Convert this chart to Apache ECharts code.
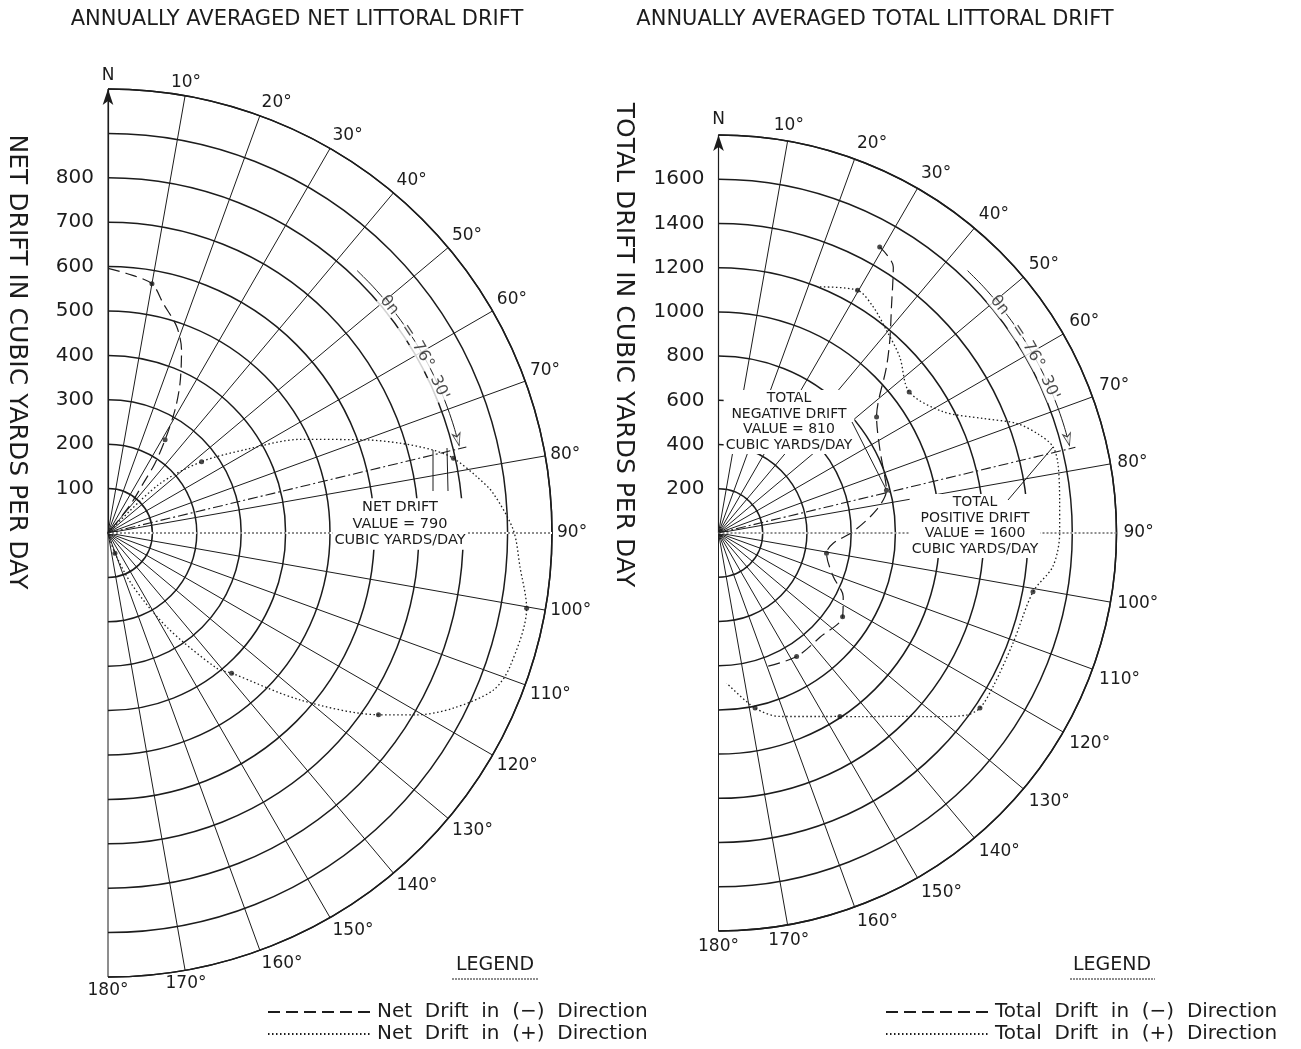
<!DOCTYPE html>
<html>
<head>
<meta charset="utf-8">
<title>Annually averaged littoral drift</title>
<script src="https://cdn.jsdelivr.net/npm/echarts@6.0.0/dist/echarts.min.js"></script>
<style>
  html, body { margin: 0; padding: 0; background: #fff; }
  #chart { width: 1301px; height: 1049px; }
</style>
</head>
<body>
<div id="chart"></div>
<script>
// Wave approach angle in degrees clockwise from north, drift in cubic yards per day.

// Net littoral drift, negative direction
const netNegAngle = [0, 4.1, 10, 13.5, 18.4, 21.9, 25.7, 28.6, 31.5, 34, 35.4, 38.4, 40];
const netNegValue = [596, 586, 570, 532, 490, 444, 374, 315, 246, 189, 137, 80, 0];
const netNegDotAngle = [10, 31.5];
const netNegDotValue = [570, 246];

// Net littoral drift, positive direction
const netPosAngle = [44, 46.3, 52.7, 58.9, 64, 70.2, 72.9, 75.7, 77.8, 81.3, 84.1, 89.6, 94.7, 100.2, 108.4, 112.2, 116.9, 120.5, 123.9, 131, 138.6, 141.2, 148, 155, 161, 165];
const netPosValue = [0, 157, 265, 365, 481, 619, 688, 756, 796, 840, 872, 913, 931, 958, 954, 937, 872, 807, 734, 573, 421, 391, 250, 130, 48, 0];
const netPosDotAngle = [52.7, 77.8, 100.2, 123.9, 138.6, 161];
const netPosDotValue = [265, 796, 958, 734, 421, 48];

// Total littoral drift, negative direction
const totNegAngle = [29.4, 33.3, 37.4, 41.6, 45.3, 53.7, 62.8, 71.3, 75.7, 81.7, 89.4, 95.1, 100.6, 110.8, 117, 124, 135.8, 147.7, 160.2];
const totNegValue = [1485, 1440, 1288, 1167, 1069, 887, 821, 794, 784, 722, 609, 521, 497, 555, 633, 677, 658, 661, 642];
const totNegDotAngle = [29.4, 53.7, 75.7, 100.6, 124, 147.7];
const totNegDotValue = [1485, 887, 784, 497, 677, 661];

// Total littoral drift, positive direction
const totPosAngle = [22.4, 29.8, 34.4, 39.6, 45.8, 53.5, 61.6, 66.6, 69.8, 73, 75.5, 78.4, 84.5, 90, 95.7, 100.6, 110.5, 119.2, 123.8, 126.3, 129.7, 135.3, 142.4, 146.5, 151.1, 161.5, 168.2, 176.9];
const totPosValue = [1204, 1265, 1239, 1191, 1143, 1073, 1154, 1304, 1436, 1518, 1562, 1567, 1550, 1543, 1520, 1447, 1422, 1423, 1423, 1391, 1300, 1167, 1048, 995, 948, 875, 809, 680];
const totPosDotAngle = [29.8, 53.5, 100.6, 123.8, 146.5, 168.2];
const totPosDotValue = [1265, 1073, 1447, 1423, 995, 809];

// Shore normal, 76 deg 30 min
const shoreNormal = 76.5;
const netNormalReach = 830;
const totNormalReach = 1660;
const netArcValue = 815;
const totArcValue = 1636;
const arcAngles = [43.5, 47, 51, 55, 59, 63, 67, 70, 73, 76];
const arcTextAngles = [51, 56, 60.5, 66.3];
const arcTextParts = ['θn', '=', '76°', "30'"];

// The east spoke is drawn dotted
const eastSpoke = 90;

// Axis scales
const netMax = 1000, netStep = 100, netLabelTop = 800;
const totMax = 1800, totStep = 200, totLabelTop = 1600;

const legendNet = ['Net  Drift  in  (−)  Direction', 'Net  Drift  in  (+)  Direction'];
const legendTot = ['Total  Drift  in  (−)  Direction', 'Total  Drift  in  (+)  Direction'];

const INK = '#1c1c1c';
const FONT = 'DejaVu Sans';
const DASH = [12, 6];
const DOT = [1.5, 2.5];

const pairs = (vals, angs) => vals.map((v, i) => [v, angs[i]]);

function angleAxis(i, margin) {
  return {
    polarIndex: i, type: 'value', min: 0, max: 180, interval: 10,
    startAngle: 90, endAngle: -90, clockwise: true,
    axisLine: { show: true, lineStyle: { color: INK, width: 1.5 } },
    axisTick: { show: false },
    axisLabel: {
      show: true, margin: margin, fontFamily: FONT, fontSize: 17, color: INK,
      formatter: v => (v === 0 ? 'N' : v + '°')
    },
    splitLine: { show: true, lineStyle: { color: INK, width: 1 } }
  };
}

function radiusAxis(i, max, step, top) {
  return {
    polarIndex: i, type: 'value', min: 0, max: max, interval: step,
    axisLine: { show: true, symbol: ['none', 'arrow'], symbolSize: [8, 16], lineStyle: { color: INK, width: 1.2 } },
    axisTick: { show: false },
    axisLabel: {
      show: true, margin: 14, fontFamily: FONT, fontSize: 20, color: INK,
      formatter: v => (v > 0 && v <= top ? String(v) : '')
    },
    splitLine: { show: true, lineStyle: { color: INK, width: 1.5 } }
  };
}

function curve(name, polarIndex, vals, angs, dash) {
  return {
    type: 'line', name: name, coordinateSystem: 'polar', polarIndex: polarIndex,
    data: pairs(vals, angs), smooth: 0.3, symbol: 'none', silent: true, z: 6,
    lineStyle: { color: INK, width: dash === DOT ? 1.3 : 1.2, type: dash }
  };
}

function dots(polarIndex, vals, angs) {
  return {
    type: 'scatter', coordinateSystem: 'polar', polarIndex: polarIndex,
    data: pairs(vals, angs), symbol: 'circle', symbolSize: 5, silent: true, z: 7,
    itemStyle: { color: INK }
  };
}

function dottedSpoke(polarIndex, max) {
  return [
    {
      type: 'line', coordinateSystem: 'polar', polarIndex: polarIndex, silent: true, z: 3,
      data: [[0, eastSpoke], [max, eastSpoke]], symbol: 'none',
      lineStyle: { color: '#fff', width: 2 }
    },
    {
      type: 'line', coordinateSystem: 'polar', polarIndex: polarIndex, silent: true, z: 3,
      data: [[0, eastSpoke], [max, eastSpoke]], symbol: 'none',
      lineStyle: { color: INK, width: 1, type: [2, 2] }
    }
  ];
}

function normalLine(polarIndex, reach) {
  return {
    type: 'line', coordinateSystem: 'polar', polarIndex: polarIndex, silent: true, z: 5,
    data: [[0, shoreNormal], [reach, shoreNormal]], symbol: 'none',
    lineStyle: { color: INK, width: 1.1, type: [10, 3, 2, 3] }
  };
}

function normalArc(polarIndex, r) {
  return [
    {
      type: 'line', coordinateSystem: 'polar', polarIndex: polarIndex, silent: true, z: 5,
      data: arcAngles.map(a => [r, a]), smooth: 0.3, symbol: 'none',
      lineStyle: { color: INK, width: 1 }
    },
    {
      type: 'scatter', coordinateSystem: 'polar', polarIndex: polarIndex, silent: true, z: 9,
      data: [[r, arcAngles[arcAngles.length - 1]]], symbol: 'arrow', symbolSize: [6, 12],
      symbolRotate: -arcAngles[arcAngles.length - 1] - 90,
      itemStyle: { color: '#fff', borderColor: INK, borderWidth: 1 }
    },
    {
      type: 'scatter', coordinateSystem: 'polar', polarIndex: polarIndex, silent: true, z: 9,
      symbolSize: 0,
      data: arcTextAngles.map((a, k) => ({
        value: [r, a],
        label: {
          show: true, position: 'inside', formatter: arcTextParts[k], rotate: -a,
          fontFamily: FONT, fontSize: 16, color: INK,
          backgroundColor: '#fff', padding: [0, 1]
        }
      }))
    }
  ];
}

function textBlock(x, y, lines, size, lh) {
  return {
    type: 'text', x: x, y: y, z: 100,
    style: {
      text: lines.join('\n'), font: size + 'px "' + FONT + '"', fill: INK,
      align: 'center', verticalAlign: 'middle', lineHeight: lh,
      backgroundColor: '#fff', padding: [1, 2]
    }
  };
}

function plainText(x, y, text, size, rotation) {
  return {
    type: 'text', x: x, y: y, z: 100, rotation: rotation || 0,
    style: {
      text: text, font: size + 'px "' + FONT + '"', fill: INK,
      align: 'center', verticalAlign: 'middle'
    }
  };
}

function seg(x1, y1, x2, y2, dash) {
  return {
    type: 'line', z: 100,
    shape: { x1: x1, y1: y1, x2: x2, y2: y2 },
    style: { stroke: INK, lineWidth: 1, lineDash: dash || null }
  };
}

function legendBox(names, left) {
  return {
    data: names, left: left, top: 1002, height: 46, orient: 'vertical',
    padding: 0, itemWidth: 104, itemHeight: 12, itemGap: 2, selectedMode: false,
    itemStyle: { opacity: 0 },
    textStyle: { fontFamily: FONT, fontSize: 20, lineHeight: 20, color: INK }
  };
}

const chart = echarts.init(document.getElementById('chart'), null, { renderer: 'canvas' });

chart.setOption({
  backgroundColor: '#fff',
  animation: false,
  polar: [
    { center: [108, 533], radius: 444 },
    { center: [718.5, 533], radius: 398 }
  ],
  angleAxis: [angleAxis(0, 5), angleAxis(1, 7)],
  radiusAxis: [radiusAxis(0, netMax, netStep, netLabelTop), radiusAxis(1, totMax, totStep, totLabelTop)],
  legend: [legendBox(legendNet, 267), legendBox(legendTot, 885)],
  series: [
    ...dottedSpoke(0, netMax),
    curve(legendNet[0], 0, netNegValue, netNegAngle, DASH),
    curve(legendNet[1], 0, netPosValue, netPosAngle, DOT),
    dots(0, netNegDotValue, netNegDotAngle),
    dots(0, netPosDotValue, netPosDotAngle),
    normalLine(0, netNormalReach),
    ...normalArc(0, netArcValue),
    ...dottedSpoke(1, totMax),
    curve(legendTot[0], 1, totNegValue, totNegAngle, DASH),
    curve(legendTot[1], 1, totPosValue, totPosAngle, DOT),
    dots(1, totNegDotValue, totNegDotAngle),
    dots(1, totPosDotValue, totPosDotAngle),
    normalLine(1, totNormalReach),
    ...normalArc(1, totArcValue)
  ],
  graphic: [
    plainText(297, 20, 'ANNUALLY AVERAGED NET LITTORAL DRIFT', 21),
    plainText(875, 20, 'ANNUALLY AVERAGED TOTAL LITTORAL DRIFT', 21),
    plainText(16, 362, 'NET DRIFT IN CUBIC YARDS PER DAY', 25, -Math.PI / 2),
    plainText(623, 345, 'TOTAL DRIFT IN CUBIC YARDS PER DAY', 25, -Math.PI / 2),
    textBlock(400, 524, ['NET DRIFT', 'VALUE = 790', 'CUBIC YARDS/DAY'], 14.5, 16.5),
    textBlock(789, 422, ['TOTAL', 'NEGATIVE DRIFT', 'VALUE = 810', 'CUBIC YARDS/DAY'], 14, 15.5),
    textBlock(975, 526, ['TOTAL', 'POSITIVE DRIFT', 'VALUE = 1600', 'CUBIC YARDS/DAY'], 14, 15.5),
    seg(433, 450, 433, 491),
    seg(447, 448, 448, 491),
    seg(852, 422, 886, 489),
    seg(1008, 500, 1053, 447),
    plainText(495, 965, 'LEGEND', 19),
    seg(452, 979, 538, 979, [2, 1]),
    plainText(1112, 965, 'LEGEND', 19),
    seg(1070, 979, 1155, 979, [2, 1])
  ]
});
</script>
</body>
</html>
